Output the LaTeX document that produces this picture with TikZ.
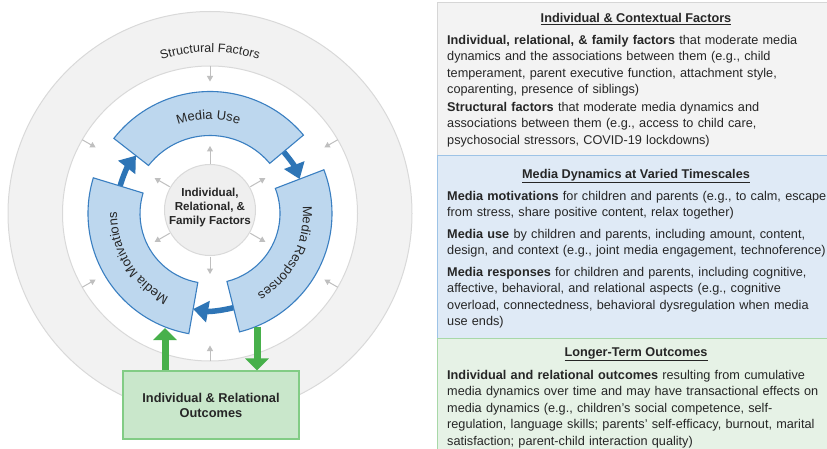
\documentclass[tikz,border=0pt]{standalone}
\usepackage{fontspec}
\setmainfont{Liberation Sans}
\usetikzlibrary{arrows.meta,decorations.text}

\definecolor{txt}{HTML}{262626}
\definecolor{ringfill}{HTML}{F2F2F2}
\definecolor{ringline}{HTML}{D9D9D9}
\definecolor{segfill}{HTML}{BDD7EE}
\definecolor{segline}{HTML}{3A7FC1}
\definecolor{cyclearrow}{HTML}{2E75B6}
\definecolor{centerfill}{HTML}{EFEFEF}
\definecolor{smallarrow}{HTML}{BFBFBF}
\definecolor{greenarrow}{HTML}{47B04B}
\definecolor{outfill}{HTML}{C9E7CB}
\definecolor{outline}{HTML}{82CC85}
\definecolor{panelgray}{HTML}{F3F3F3}
\definecolor{panelgrayline}{HTML}{D6D6D6}
\definecolor{panelblue}{HTML}{DFEAF6}
\definecolor{panelblueline}{HTML}{9DC3E6}
\definecolor{panelgreen}{HTML}{E6F2E6}
\definecolor{panelgreenline}{HTML}{A8D8A8}

\begin{document}
\begin{tikzpicture}[x=1pt,y=1pt,
  segment/.style={fill=segfill,draw=segline,line width=1.1pt,line join=miter},
  cyclearr/.style={draw=cyclearrow,line width=5.5pt,-{Triangle[length=15pt,width=21pt]}},
  smallarr/.style={draw=smallarrow,line width=1pt,-{Triangle[length=5.5pt,width=6pt]}},
  greenarr/.style={draw=greenarrow,line width=7pt,-{Triangle[length=12pt,width=23pt]}},
  outbox/.style={draw=outline,fill=outfill,line width=1.2pt,minimum width=176pt,minimum height=68pt,inner sep=0pt,
    align=center,text=txt,font=\fontsize{12.8}{15}\selectfont\bfseries},
  paneltitle/.style={anchor=base,inner sep=0pt,text=txt,font=\fontsize{12.7}{16.4}\selectfont\bfseries},
  paneltext/.style={anchor=base west,inner sep=0pt,text=txt,text width=400pt,align=left,
    font=\fontsize{12.7}{16.4}\selectfont}
]
\useasboundingbox (0,0) rectangle (827,448);

% ---------- circular model ----------
\coordinate (C) at (210,234.5);
\coordinate (CC) at (210,238);

% structural ring
\fill[ringfill] (C) circle[radius=202pt];
\draw[ringline,line width=1pt] (C) circle[radius=202pt];
\fill[white] (C) circle[radius=147.5pt];
\draw[ringline,line width=1pt] (C) circle[radius=147.5pt];

\path[decorate,decoration={text along path,text align=center,
  text={|\fontsize{12.5}{14}\selectfont\color{txt}|Structural Factors}}]
  ([shift={(121:161.5pt)}]C) arc[start angle=121,end angle=59,radius=161.5pt];

% inward arrows from the structural ring
\foreach \a in {90,30,150,210,270,330}
  \draw[smallarr] ([shift={(\a:147.5pt)}]C) -- ([shift={(\a:132pt)}]C);

% cycle arrows between the three stages
\draw[cyclearr] ([shift={(45:96pt)}]C) arc[start angle=45,end angle=21,radius=96pt];
\draw[cyclearr] ([shift={(167:94pt)}]C) arc[start angle=167,end angle=142,radius=94pt];
\draw[cyclearr] ([shift={(288:97pt)}]C) arc[start angle=288,end angle=260,radius=97pt];

% the three stages
\draw[segment] ([shift={(40:122pt)}]C) arc[start angle=40,end angle=142,radius=122pt]
  -- ([shift={(142:78pt)}]C) arc[start angle=142,end angle=40,radius=78pt] -- cycle;
\draw[segment] ([shift={(-76:122pt)}]C) arc[start angle=-76,end angle=21,radius=122pt]
  -- ([shift={(21:70pt)}]C) arc[start angle=21,end angle=-76,radius=70pt] -- cycle;
\draw[segment] ([shift={(163:122pt)}]C) arc[start angle=163,end angle=260,radius=122pt]
  -- ([shift={(260:70pt)}]C) arc[start angle=260,end angle=163,radius=70pt] -- cycle;

\path[decorate,decoration={text along path,text align=center,
  text={|\fontsize{13}{15}\selectfont\color{txt}|Media Use}}]
  ([shift={(142:94pt)}]C) arc[start angle=142,end angle=40,radius=94pt];
\path[decorate,decoration={text along path,text align=center,
  text={|\fontsize{13}{15}\selectfont\color{txt}|Media Responses}}]
  ([shift={(21:93pt)}]C) arc[start angle=21,end angle=-76,radius=93pt];
\path[decorate,decoration={text along path,text align=center,
  text={|\fontsize{13}{15}\selectfont\color{txt}|Media Motivations}}]
  ([shift={(260:93pt)}]C) arc[start angle=260,end angle=163,radius=93pt];

% individual, relational and family factors
\node[circle,draw=ringline,fill=centerfill,line width=1pt,minimum size=91pt,inner sep=0pt] (ctr) at (CC) {};
\node[align=center,text=txt,font=\fontsize{11.6}{14}\selectfont\bfseries] (ctrtext) at (210,240.5)
  {Individual,\\Relational, \&\\Family Factors};
\foreach \a in {90,30,150,210,270,330}
  \draw[smallarr] ([shift={(\a:46.5pt)}]CC) -- ([shift={(\a:64pt)}]CC);

% longer-term outcomes
\node[outbox] (out) at (211,43) {Individual \& Relational\\Outcomes};
\coordinate (mmfoot) at (165,120);
\coordinate (mrfoot) at (257,121.5);
\draw[greenarr] (out.north -| mmfoot) -- (mmfoot);
\draw[greenarr] (mrfoot) -- (out.north -| mrfoot);

% ---------- legend panels ----------
\draw[fill=panelgray,draw=panelgrayline,line width=1pt] (437,445) rectangle (832,293);
\draw[fill=panelblue,draw=panelblueline,line width=1pt] (437,293) rectangle (832,110);
\draw[fill=panelgreen,draw=panelgreenline,line width=1pt] (437,110) rectangle (832,-3);

\node[paneltitle] (t1) at (636,425.5) {\underline{Individual \& Contextual Factors}};
\node[paneltext] (p11) at (447,403.5) {\textbf{Individual, relational, \& family factors} that moderate media\\
  dynamics and the associations between them (e.g., child\\
  temperament, parent executive function, attachment style,\\
  coparenting, presence of siblings)};
\node[paneltext] (p12) at (447,336.5) {\textbf{Structural factors} that moderate media dynamics and\\
  associations between them (e.g., access to child care,\\
  psychosocial stressors, COVID-19 lockdowns)};

\node[paneltitle] (t2) at (636,269.5) {\underline{Media Dynamics at Varied Timescales}};
\node[paneltext] (p21) at (447,247.5) {\textbf{Media motivations} for children and parents (e.g., to calm, escape\\
  from stress, share positive content, relax together)};
\node[paneltext] (p22) at (447,209.5) {\textbf{Media use} by children and parents, including amount, content,\\
  design, and context (e.g., joint media engagement, technoference)};
\node[paneltext] (p23) at (447,171.5) {\textbf{Media responses} for children and parents, including cognitive,\\
  affective, behavioral, and relational aspects (e.g., cognitive\\
  overload, connectedness, behavioral dysregulation when media\\
  use ends)};

\node[paneltitle] (t3) at (636,91.5) {\underline{Longer-Term Outcomes}};
\node[paneltext] (p31) at (447,68.5) {\textbf{Individual and relational outcomes} resulting from cumulative\\
  media dynamics over time and may have transactional effects on\\
  media dynamics (e.g., children’s social competence, self-\\
  regulation, language skills; parents’ self-efficacy, burnout, marital\\
  satisfaction; parent-child interaction quality)};
\end{tikzpicture}
\end{document}
